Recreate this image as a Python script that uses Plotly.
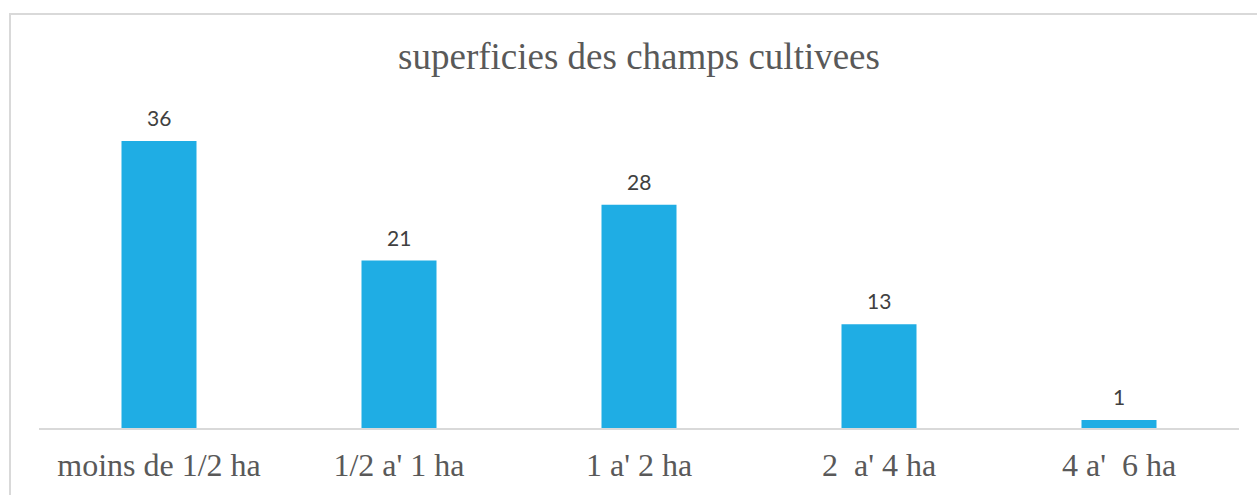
import plotly.graph_objects as go

categories = ["moins de 1/2 ha", "1/2 a' 1 ha", "1 a' 2 ha", "2  a' 4 ha", "4 a'  6 ha"]
values = [36, 21, 28, 13, 1]
title_text = "superficies des champs cultivees"

W, H = 1257, 495
L, R, T, B = 39, 18, 109, 64
pw, ph = W - L - R, H - T - B

fig = go.Figure(go.Bar(
    x=categories, y=values,
    marker=dict(color="#1FADE4", line=dict(width=0)),
    hoverinfo="x+y",
))

for c, v in zip(categories, values):
    fig.add_annotation(x=c, y=v, text=str(v), showarrow=False, yanchor="bottom",
                       yshift=9, font=dict(family="Lato, DejaVu Sans, sans-serif", size=21, color="#404040"))

# outer chart border (cropped on right/bottom)
fig.add_shape(type="rect", xref="paper", yref="paper",
              x0=(10 - L) / pw, x1=(W + 20 - L) / pw,
              y0=-(B + 30) / ph, y1=(H - B - 13) / ph,
              line=dict(color="#D9D9D9", width=2), fillcolor="rgba(0,0,0,0)", layer="below")

fig.update_layout(
    width=W, height=H,
    margin=dict(l=L, r=R, t=T, b=B),
    paper_bgcolor="white", plot_bgcolor="white",
    bargap=0.6875,
    showlegend=False,
    title=dict(text=title_text, x=(L + pw / 2) / W,
               xanchor="center", y=1 - 56 / H, yanchor="middle",
               font=dict(family="Liberation Serif, Times New Roman, serif", size=37, color="#595959")),
    xaxis=dict(showline=True, linecolor="#D9D9D9", linewidth=2, ticks="", showgrid=False,
               tickfont=dict(family="Liberation Serif, Times New Roman, serif", size=32, color="#595959"),
               ticklabelstandoff=8),
    yaxis=dict(range=[0, 40], visible=False, showgrid=False, zeroline=False),
)

fig.write_html("out.html",
               config={"displayModeBar": False},
               post_script="document.body.style.margin='0';document.body.style.overflow='hidden';")
